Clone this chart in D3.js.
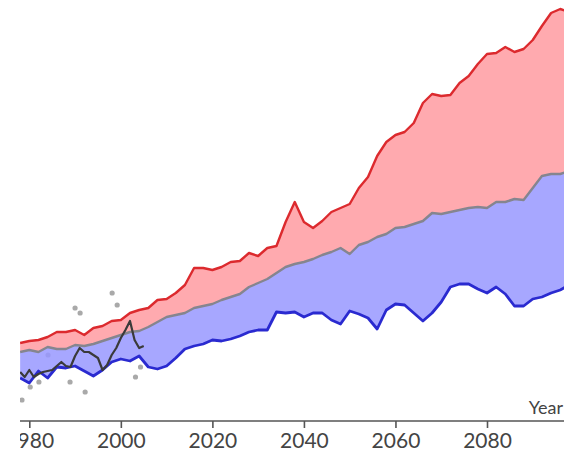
<!DOCTYPE html>
<html>
<head>
<meta charset="utf-8">
<script src="https://cdn.jsdelivr.net/npm/d3@7"></script>
<style>
  html, body { margin: 0; padding: 0; background: #fff; }
  svg { display: block; }
  .tick text { font-family: Lato, "Open Sans", sans-serif; }
</style>
</head>
<body>
<svg id="chart"></svg>
<script>
// projection years (every 2 years)
const years = d3.range(1978, 2101, 2);

// upper bound of the projection range
const upper = [0.78,0.80,0.81,0.84,0.89,0.89,0.91,0.86,0.93,0.95,1.00,1.01,1.08,1.11,1.13,1.21,1.22,1.28,1.36,1.53,
  1.53,1.51,1.54,1.59,1.60,1.68,1.65,1.73,1.75,1.99,2.19,1.99,1.93,2.00,2.09,2.13,2.17,2.33,2.44,2.65,
  2.79,2.86,2.89,2.98,3.18,3.27,3.25,3.26,3.38,3.45,3.57,3.67,3.68,3.74,3.69,3.72,3.81,3.95,4.08,4.12,4.09,4.07];

// middle (mean) line
const middle = [0.69,0.71,0.69,0.74,0.72,0.72,0.76,0.75,0.77,0.80,0.83,0.86,0.89,0.90,0.94,0.99,1.04,1.06,1.08,1.13,
  1.15,1.17,1.21,1.24,1.27,1.34,1.38,1.42,1.48,1.54,1.57,1.59,1.62,1.66,1.69,1.73,1.67,1.76,1.79,1.84,
  1.87,1.93,1.94,1.97,2.00,2.08,2.07,2.09,2.11,2.13,2.14,2.13,2.19,2.19,2.22,2.21,2.33,2.45,2.47,2.47,2.50,2.51];

// lower bound
const lower = [0.43,0.38,0.50,0.43,0.54,0.53,0.55,0.50,0.45,0.51,0.59,0.62,0.60,0.65,0.54,0.52,0.55,0.63,0.72,0.75,
  0.77,0.81,0.80,0.82,0.85,0.89,0.91,0.91,1.09,1.08,1.09,1.04,1.08,1.08,1.01,0.97,1.10,1.07,1.03,0.92,
  1.11,1.17,1.16,1.08,1.00,1.08,1.19,1.34,1.37,1.37,1.32,1.28,1.34,1.27,1.15,1.15,1.22,1.24,1.28,1.31,1.36,1.38];

// observed, yearly
const obsYears = d3.range(1978, 2006);
const observed = [0.49,0.44,0.51,0.44,0.47,0.49,0.50,0.51,0.55,0.59,0.55,0.54,0.65,0.73,0.69,0.69,0.66,0.63,0.51,0.56,
  0.66,0.73,0.83,0.91,1.00,0.81,0.73,0.75];

// scattered points
const dotYears = [1978.4, 1980.2, 1982.1, 1984.1, 1988.9, 1990.0, 1991.1, 1992.2, 1998.1, 1999.2, 2003.2, 2004.3];
const dotValues = [0.21, 0.34, 0.39, 0.66, 0.39, 1.13, 1.08, 0.29, 1.28, 1.16, 0.44, 0.54];

const tickYears = [1980, 2000, 2020, 2040, 2060, 2080];

const W = 564, H = 452;
const svg = d3.select("#chart").attr("width", W).attr("height", H);

svg.append("defs").append("clipPath").attr("id", "clip")
   .append("rect").attr("x", 20).attr("y", 0).attr("width", W - 20).attr("height", H);

const root = svg.append("g").attr("clip-path", "url(#clip)");

const axisY = 421;
const x = d3.scaleLinear().domain([1980, 2080]).range([29.3, 487]);
const y = d3.scaleLinear().domain([0, 4.21]).range([axisY, 0]);

const rows = years.map((yr, i) => ({ yr, hi: upper[i], mid: middle[i], lo: lower[i] }));

// dots
root.selectAll(".dot")
    .data(dotYears.map((yr, i) => ({ yr, v: dotValues[i] })))
    .enter().append("circle")
    .attr("cx", d => x(d.yr)).attr("cy", d => y(d.v))
    .attr("r", 2.6).attr("fill", "#a9a9a9");

// bands
root.append("path").datum(rows)
    .attr("fill", "#ff9ba1").attr("fill-opacity", 0.85)
    .attr("d", d3.area().x(d => x(d.yr)).y0(d => y(d.mid)).y1(d => y(d.hi)));

root.append("path").datum(rows)
    .attr("fill", "#9898ff").attr("fill-opacity", 0.85)
    .attr("d", d3.area().x(d => x(d.yr)).y0(d => y(d.lo)).y1(d => y(d.mid)));

// lines
const line = key => d3.line().x(d => x(d.yr)).y(d => y(d[key]));

root.append("path").datum(rows)
    .attr("fill", "none").attr("stroke", "#2a2ad0").attr("stroke-width", 2.8)
    .attr("stroke-linejoin", "round").attr("d", line("lo"));

root.append("path").datum(rows)
    .attr("fill", "none").attr("stroke", "#85858f").attr("stroke-width", 2.4)
    .attr("stroke-linejoin", "round").attr("d", line("mid"));

root.append("path").datum(rows)
    .attr("fill", "none").attr("stroke", "#dc2a2e").attr("stroke-width", 2.4)
    .attr("stroke-linejoin", "round").attr("d", line("hi"));

root.append("path")
    .datum(obsYears.map((yr, i) => ({ yr, v: observed[i] })))
    .attr("fill", "none").attr("stroke", "#3a3a3a").attr("stroke-width", 2.2)
    .attr("stroke-linejoin", "round")
    .attr("d", d3.line().x(d => x(d.yr)).y(d => y(d.v)));

// x axis
const axis = root.append("g")
    .attr("transform", `translate(0,${axisY})`)
    .call(d3.axisBottom(x).tickValues(tickYears).tickFormat(d3.format("d"))
           .tickSize(7).tickSizeOuter(0));
axis.select(".domain").attr("stroke", "#555").attr("stroke-width", 1.6)
    .attr("d", `M0,0H${W}`);
axis.selectAll(".tick line").attr("stroke", "#555").attr("stroke-width", 1.6);
axis.selectAll(".tick text")
    .attr("fill", "#444").attr("font-size", 21).attr("y", 12);

root.append("text")
    .attr("x", W - 1).attr("y", 414)
    .attr("text-anchor", "end")
    .attr("font-family", "Lato, 'Open Sans', sans-serif")
    .attr("font-size", 18).attr("fill", "#444")
    .text("Year");
</script>
</body>
</html>
